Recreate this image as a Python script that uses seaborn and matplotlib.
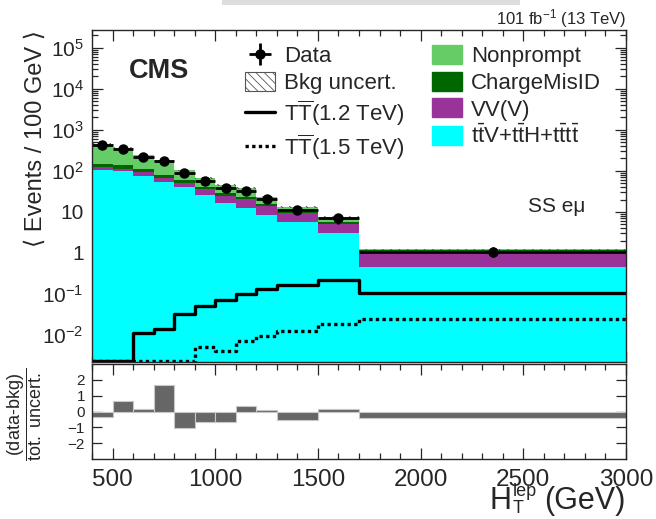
import numpy as np
import pandas as pd
import matplotlib
matplotlib.use("Agg")
import matplotlib.pyplot as plt
import seaborn as sns
from matplotlib.patches import Patch, Rectangle
from matplotlib.lines import Line2D
from matplotlib.ticker import LogLocator, MultipleLocator, FuncFormatter, NullFormatter

# ---------------- data (values per 100 GeV) ----------------
bin_edges = [400, 500, 600, 700, 800, 900, 1000, 1100, 1200, 1300, 1500, 1700, 3000]
ttv = [102, 97, 73, 52, 40, 26, 16.2, 12.4, 8.5, 5.7, 3.0, 0.46]
vvv = [19, 15, 20, 16, 11, 10, 8.3, 7.9, 5.1, 3.6, 2.2, 0.64]
chargemisid = [28, 29, 19, 13, 9, 5, 4, 2.4, 1.9, 0.7, 0.6, 0.05]
nonprompt = [314, 221, 127, 99, 42, 27, 17, 15.8, 8, 3.3, 1.8, 0.07]
bkg_unc = [20, 15, 10, 8, 5, 3.5, 2.5, 2.2, 1.4, 0.8, 0.5, 0.06]
data = [429, 336, 222, 170, 88, 58, 38.5, 33, 21, 11.3, 7.0, 1.07]
data_err = [21, 18, 15, 13, 9.4, 7.6, 6.2, 5.7, 4.6, 2.4, 1.9, 0.29]
tt_1200 = [0.0023, 0.0023, 0.011, 0.014, 0.032, 0.052, 0.072, 0.10, 0.13, 0.165, 0.22, 0.107]
tt_1500 = [0.0023, 0.0023, 0.0023, 0.0023, 0.0023, 0.005, 0.0041, 0.0071, 0.0093, 0.0125, 0.019, 0.025]
pulls = [-0.36, 0.66, 0.17, 1.68, -1.04, -0.68, -0.64, 0.36, 0.085, -0.53, 0.13, -0.40]

proc_labels = ["Nonprompt", "ChargeMisID", "VV(V)", r"t$\bar{\mathrm{t}}$V+t$\bar{\mathrm{t}}$H+t$\bar{\mathrm{t}}$t$\bar{\mathrm{t}}$"]
proc_colors = ["#66cc66", "#006600", "#993399", "#00ffff"]
x_ticks = [500, 1000, 1500, 2000, 2500, 3000]

# ---------------- style ----------------
sns.set_style("ticks")
plt.rcParams["font.family"] = ["Liberation Sans", "DejaVu Sans"]
plt.rcParams["mathtext.fontset"] = "custom"
plt.rcParams["mathtext.rm"] = "Liberation Sans"
plt.rcParams["mathtext.it"] = "Liberation Sans:italic"
plt.rcParams["mathtext.bf"] = "Liberation Sans:bold"
plt.rcParams["axes.linewidth"] = 1.0
plt.rcParams["hatch.linewidth"] = 0.6

edges = np.array(bin_edges, dtype=float)
centers = 0.5 * (edges[:-1] + edges[1:])
halfw = 0.5 * np.diff(edges)
n = len(centers)

df = pd.DataFrame({
    "x": np.tile(centers, 4),
    "w": np.concatenate([nonprompt, chargemisid, vvv, ttv]),
    "proc": np.repeat(proc_labels, n),
})

fig = plt.figure(figsize=(6.56, 5.19), dpi=100)
W, H = 656.0, 519.0
ax = fig.add_axes([92 / W, 1 - 362 / H, 534 / W, 332 / H])
rax = fig.add_axes([92 / W, 1 - 459 / H, 534 / W, 95 / H])

# stacked backgrounds
sns.histplot(data=df, x="x", weights="w", hue="proc", hue_order=proc_labels,
             multiple="stack", bins=bin_edges, palette=proc_colors, alpha=1,
             element="step", linewidth=0, legend=False, ax=ax)

# bkg uncertainty
tot = np.array(nonprompt) + np.array(chargemisid) + np.array(vvv) + np.array(ttv)
unc = np.array(bkg_unc)
lo = np.append(tot - unc, tot[-1] - unc[-1])
hi = np.append(tot + unc, tot[-1] + unc[-1])
ax.fill_between(edges, lo, hi, step="post", facecolor="none", edgecolor="#444444",
                hatch="\\\\\\\\", linewidth=0)

# signals
sns.histplot(x=centers, weights=tt_1200, bins=bin_edges, element="step", fill=False,
             color="black", linewidth=2.4, ax=ax)
sns.histplot(x=centers, weights=tt_1500, bins=bin_edges, element="step", fill=False,
             color="black", linewidth=2.4, linestyle=(0, (1, 1)), ax=ax)

# data
eb = ax.errorbar(centers, data, xerr=halfw, yerr=data_err, fmt="o", color="black",
                 ms=6.5, elinewidth=2, capsize=0)

ax.set_yscale("log")
ax.set_xlim(400, 3000)
ax.set_ylim(0.0022, 2.7e5)
ax.set_xlabel("")

def yfmt(v, pos):
    e = int(round(np.log10(v)))
    if e == 0:
        return "1"
    if e == 1:
        return "10"
    return r"$\mathregular{10^{%d}}$" % e

ax.yaxis.set_major_locator(LogLocator(base=10, numticks=20))
ax.yaxis.set_minor_locator(LogLocator(base=10, subs=np.arange(2, 10), numticks=100))
ax.yaxis.set_major_formatter(FuncFormatter(yfmt))
ax.yaxis.set_minor_formatter(NullFormatter())
ax.xaxis.set_major_locator(MultipleLocator(500))
ax.xaxis.set_minor_locator(MultipleLocator(100))
ax.tick_params(which="both", direction="in", top=True, right=True, labelbottom=False,
               width=0.9, labelsize=15, pad=6)
ax.tick_params(which="major", length=8)
ax.tick_params(which="minor", length=4)

ax.set_ylabel("⟨ Events / 100 GeV ⟩", fontsize=17, loc="top")
ax.yaxis.set_label_coords(-0.085, 1.0)

# texts
fig.text(626 / W, 1 - 24 / H, r"101 fb$^{-1}$ (13 TeV)", ha="right", va="baseline", fontsize=12)
fig.text(129 / W, 1 - 78 / H, "CMS", fontsize=19.5, fontweight="bold",
         ha="left", va="baseline")
fig.text(585 / W, 1 - 212 / H, "SS eμ", ha="right", va="baseline", fontsize=15)
fig.patches.append(Rectangle((222 / W, 1 - 5 / H), 298 / W, 5 / H, transform=fig.transFigure,
                             facecolor="#dddddd", edgecolor="none"))

# legends
h_left = [eb,
          Patch(facecolor="white", edgecolor="#555555", hatch="\\\\\\\\", linewidth=0.8),
          Line2D([], [], color="black", lw=2.4),
          Line2D([], [], color="black", lw=2.4, linestyle=(0, (1, 1)))]
l_left = ["Data", "Bkg uncert.", r"T$\overline{\mathrm{T}}$(1.2 TeV)", r"T$\overline{\mathrm{T}}$(1.5 TeV)"]
leg_kw = dict(loc="upper left", bbox_transform=fig.transFigure, frameon=False, fontsize=16,
              borderpad=0, borderaxespad=0, handlelength=1.35, handletextpad=0.42,
              labelspacing=0.2, handleheight=0.95)
leg1 = ax.legend(h_left, l_left, bbox_to_anchor=(245 / W, 1 - 45 / H), **leg_kw)
ax.add_artist(leg1)
h_right = [Patch(facecolor=c, edgecolor=c) for c in proc_colors]
leg2 = ax.legend(h_right, proc_labels, bbox_to_anchor=(432 / W, 1 - 45 / H), **leg_kw)

# pull panel
sns.histplot(x=centers, weights=pulls, bins=bin_edges, element="bars", color="#666666",
             edgecolor="#c8c8c8", linewidth=0.8, alpha=1, ax=rax)
rax.set_xlim(400, 3000)
rax.set_ylim(-3, 3)
rax.set_yticks([-2, -1, 0, 1, 2])
rax.set_xticks(x_ticks)
rax.xaxis.set_minor_locator(MultipleLocator(100))
rax.tick_params(which="both", direction="in", top=True, right=True, width=0.9)
rax.tick_params(axis="x", which="major", length=8, labelsize=17.5, pad=7)
rax.tick_params(axis="x", which="minor", length=4)
rax.tick_params(axis="y", which="major", length=7, labelsize=11, pad=5)
rax.set_ylabel("")
rax.set_xlabel("")
fig.text(25 / W, 1 - 414 / H, r"$\dfrac{\mathrm{(data\text{-}bkg)}}{\mathrm{tot.\ uncert.}}$",
         rotation=90, ha="center", va="center", fontsize=13)

# x-axis title composed ROOT-like: H, sup "lep", sub "T", "(GeV)"
renderer = fig.canvas.get_renderer()
t_gev = fig.text(626 / W, 1 - 509 / H, "(GeV)", ha="right", va="baseline", fontsize=22)
bb = t_gev.get_window_extent(renderer)
x_scr = bb.x0 - 8
t_sup = fig.text(x_scr / W, 1 - 496 / H, "lep", ha="right", va="baseline", fontsize=13)
bs = t_sup.get_window_extent(renderer)
fig.text(bs.x0 / W, 1 - 513 / H, "T", ha="left", va="baseline", fontsize=13)
fig.text((bs.x0 - 1) / W, 1 - 509 / H, "H", ha="right", va="baseline", fontsize=22)

fig.savefig("out.png", dpi=100)
